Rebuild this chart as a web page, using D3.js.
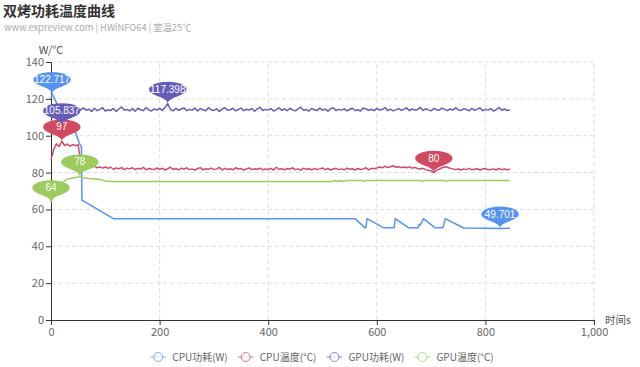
<!DOCTYPE html>
<html>
<head>
<meta charset="utf-8">
<script src="https://cdn.jsdelivr.net/npm/d3@7"></script>
<style>
    body { margin: 0; background: #fff; }
    svg { display: block; font-family: "Noto Sans CJK SC", "Noto Sans", sans-serif; }
</style>
</head>
<body>
<svg id="chart" width="640" height="367"></svg>
<script>
const titleText = "双烤功耗温度曲线";
const subtitleText = "www.expreview.com | HWiNFO64 | 室温25℃";
const seriesNames = ["CPU功耗(W)", "CPU温度(°C)", "GPU功耗(W)", "GPU温度(°C)"];
const seriesColors = ["#5793f3", "#d14a61", "#675bba", "#9ccb5e"];
const xTicks = [0, 200, 400, 600, 800, 1000];
const yTicks = [0, 20, 40, 60, 80, 100, 120, 140];

// CPU power, [seconds, W]
const cpuPower = [
    [0, 120.5], [2, 122.717], [10, 118], [20, 112], [30, 108], [40, 104], [45, 102],
    [52, 96], [56, 94], [57, 65], [115, 55], [560, 55], [578, 50.1], [580, 50.1],
    [582, 55], [612, 50.1], [632, 50.1], [634, 55], [658, 50.1], [676, 50.1],
    [678, 52], [680, 51.5], [686, 55], [707, 50.1], [722, 50.1], [726, 55],
    [760, 49.9], [800, 49.8], [827, 49.701], [845, 49.75]
];

// GPU temperature, [seconds, °C]
const gpuTemp = [
    [0, 64], [5, 68], [10, 71], [15, 73], [20, 74], [25, 75.5], [30, 76.5], [40, 77],
    [50, 77.5], [53, 78], [58, 77.2], [70, 76.8], [90, 76.3], [100, 75.4], [110, 75.1],
    [518, 75.1], [523, 75.8], [526, 75.2], [536, 75.7], [539, 75.1], [542, 75.7],
    [575, 75.7], [578, 75.1], [581, 75.7], [680, 75.7], [683, 75.1], [686, 75.7],
    [724, 75.7], [727, 75.1], [730, 75.7], [845, 75.7]
];

// logged every 5 s from t = 0 to 845
const sampleStep = 5;

const cpuTemp = [
    87.0, 92.5, 95.6, 94.1, 97.0, 94.7, 95.4, 94.3, 95.2, 94.6,
    95.1, 85.2, 83.6, 84.1, 83.3, 82.8, 83.5, 82.6, 83.1, 82.4,
    83.0, 82.3, 82.9, 81.8, 82.5, 82.1, 82.7, 81.6, 82.4, 82.0,
    82.6, 81.7, 82.3, 81.9, 82.8, 81.5, 82.2, 82.0, 81.6, 82.5,
    81.8, 82.3, 81.4, 82.1, 82.9, 81.7, 82.2, 81.5, 82.4, 81.9,
    82.6, 81.6, 82.0, 81.3, 82.2, 82.7, 81.5, 82.1, 81.8, 82.4,
    81.6, 82.0, 82.8, 81.4, 82.3, 81.7, 82.1, 81.5, 82.6, 81.9,
    82.2, 81.3, 82.0, 82.5, 81.6, 82.1, 81.8, 82.4, 81.5, 82.0,
    81.7, 82.3, 81.4, 82.9, 81.8, 82.1, 81.5, 82.2, 81.9, 82.6,
    81.6, 82.0, 81.3, 82.4, 81.8, 82.1, 81.5, 82.3, 81.7, 82.0,
    82.5, 81.6, 82.2, 81.4, 81.9, 82.3, 81.6, 82.0, 81.5, 82.4,
    81.8, 82.1, 81.4, 82.2, 81.7, 82.0, 82.6, 81.5, 82.3, 82.1,
    82.5, 83.0, 82.6, 83.4, 82.8, 83.1, 83.7, 82.9, 83.2, 82.7,
    83.0, 82.6, 83.1, 82.4, 82.8, 82.2, 81.9, 82.3, 81.6, 81.2,
    81.0, 80.0, 81.2, 81.8, 82.6, 83.1, 82.9, 82.3, 82.0, 81.6,
    81.9, 81.4, 82.0, 81.6, 82.3, 81.5, 81.8, 82.1, 81.4, 81.9,
    82.2, 81.5, 81.7, 82.0, 81.4, 82.3, 81.6, 81.9, 81.5, 81.8
];

const gpuPower = [
    108.2, 106.9, 106.1, 105.9, 105.837, 108.5, 112.4, 114.1, 113.2, 114.6,
    113.5, 114.2, 115.1, 113.8, 114.4, 113.1, 114.9, 113.6, 114.3, 115.2,
    113.4, 114.1, 113.7, 114.8, 113.2, 114.5, 115.6, 113.9, 114.2, 113.5,
    114.7, 113.3, 114.9, 114.1, 113.6, 115.3, 114.0, 113.4, 114.6, 113.9,
    114.8, 113.7, 115.4, 117.398, 114.2, 113.5, 114.9, 113.8, 114.5, 115.1,
    113.6, 114.3, 113.9, 115.0, 113.4, 114.7, 114.1, 113.5, 115.2, 114.0,
    113.7, 114.6, 113.2, 114.4, 115.3, 113.8, 114.1, 114.9, 113.5, 114.2,
    115.0, 113.6, 114.4, 113.9, 114.8, 113.3, 114.6, 115.4, 113.7, 114.3,
    113.9, 114.7, 113.4, 114.2, 115.1, 113.8, 114.5, 113.6, 114.9, 114.0,
    113.5, 114.6, 115.5, 113.8, 114.2, 113.4, 114.8, 114.1, 113.7, 115.0,
    113.9, 114.4, 113.3, 114.7, 115.2, 113.6, 114.3, 113.9, 114.6, 113.5,
    114.2, 114.9, 113.7, 114.1, 113.4, 115.0, 114.5, 113.8, 114.3, 113.6,
    114.8, 113.9, 114.2, 115.3, 113.7, 114.4, 113.5, 114.0, 114.7, 113.8,
    114.3, 115.1, 113.6, 114.5, 113.9, 114.2, 115.4, 113.7, 114.6, 114.0,
    113.5, 114.8, 114.1, 113.8, 115.0, 114.3, 113.6, 114.5, 113.9, 115.2,
    114.0, 113.7, 114.6, 114.2, 113.5, 114.9, 113.8, 114.4, 115.1, 113.6,
    114.3, 113.9, 114.7, 113.4, 114.2, 115.3, 113.8, 114.5, 113.7, 114.0
];

const toPairs = arr => arr.map((v, i) => [i * sampleStep, v]);
const allSeries = [cpuPower, toPairs(cpuTemp), toPairs(gpuPower), gpuTemp];

const width = 640;
const height = 367;
const margin = { top: 62, right: 46, bottom: 47, left: 51 };

const svg = d3.select("#chart");

const x = d3.scaleLinear().domain([0, 1000]).range([margin.left, width - margin.right]);
const y = d3.scaleLinear().domain([0, 140]).range([height - margin.bottom, margin.top]);

// title
svg.append("text")
    .attr("x", 3).attr("y", 16)
    .text(titleText)
    .style("font-size", "14px")
    .style("font-weight", "bold")
    .style("fill", "#333");
svg.append("text")
    .attr("x", 4).attr("y", 31)
    .text(subtitleText)
    .style("font-size", "9.3px")
    .style("fill", "#aaa");

// grid
svg.append("g")
    .selectAll("line")
    .data(yTicks.filter(d => d > 0))
    .enter().append("line")
    .attr("x1", x(0)).attr("x2", x(1000))
    .attr("y1", d => y(d)).attr("y2", d => y(d))
    .style("stroke", "#ddd")
    .style("stroke-dasharray", "4,3");
svg.append("g")
    .selectAll("line")
    .data(xTicks.filter(d => d > 0))
    .enter().append("line")
    .attr("x1", d => x(d)).attr("x2", d => x(d))
    .attr("y1", y(0)).attr("y2", y(140))
    .style("stroke", "#ddd")
    .style("stroke-dasharray", "4,3");

// axes
const xAxis = svg.append("g")
    .attr("transform", `translate(0,${y(0)})`)
    .call(d3.axisBottom(x).tickValues(xTicks).tickSize(5).tickFormat(d3.format(",")));
const yAxis = svg.append("g")
    .attr("transform", `translate(${x(0)},0)`)
    .call(d3.axisLeft(y).tickValues(yTicks).tickSize(5));
[xAxis, yAxis].forEach(g => {
    g.select(".domain").style("stroke", "#333");
    g.selectAll(".tick line").style("stroke", "#333");
    g.selectAll(".tick text")
        .style("fill", "#666")
        .style("font-size", "11px")
        .style("font-family", "\"Noto Sans CJK SC\", sans-serif");
});
xAxis.selectAll(".tick text").attr("dy", "0.95em").attr("y", 6);
yAxis.selectAll(".tick text").attr("x", -7);

svg.append("text")
    .attr("x", x(0)).attr("y", 54)
    .attr("text-anchor", "middle")
    .text("W/°C")
    .style("font-size", "11px")
    .style("fill", "#555");
svg.append("text")
    .attr("x", x(1000) + 11).attr("y", y(0) + 4)
    .text("时间s")
    .style("font-size", "10.5px")
    .style("fill", "#555");

// lines
const line = d3.line().x(d => x(d[0])).y(d => y(d[1]));
svg.append("g")
    .selectAll("path")
    .data(allSeries)
    .enter().append("path")
    .attr("d", line)
    .style("fill", "none")
    .style("stroke", (d, i) => seriesColors[i])
    .style("stroke-width", 1.5)
    .style("stroke-linejoin", "round");

// max / min pins, shaped like the echarts "pin" symbol
function pinPath() {
    const w = 30, h = 50, r = w / 2;
    const dy = r * r / (h - r);
    const cy = -h + r + dy;
    const angle = Math.asin(dy / r);
    const dx = Math.cos(angle) * r;
    const tanX = Math.sin(angle), tanY = Math.cos(angle);
    const cpLen = r * 0.6, cpLen2 = r * 0.7;
    const p = d3.path();
    p.moveTo(-dx, cy + dy);
    p.arc(0, cy, r, Math.PI - angle, Math.PI * 2 + angle);
    p.bezierCurveTo(dx - tanX * cpLen, cy + dy + tanY * cpLen, 0, -cpLen2, 0, 0);
    p.bezierCurveTo(0, -cpLen2, -dx + tanX * cpLen, cy + dy + tanY * cpLen, -dx, cy + dy);
    p.closePath();
    return { d: p.toString(), cy: cy };
}
const pin = pinPath();
const pinSx = 1.25, pinSy = 0.5;

const marks = [];
allSeries.forEach((s, i) => {
    const hi = s[d3.maxIndex(s, d => d[1])];
    const lo = s[d3.minIndex(s, d => d[1])];
    marks.push({ p: hi, color: seriesColors[i] });
    marks.push({ p: lo, color: seriesColors[i] });
});

const pins = svg.append("g")
    .selectAll("g")
    .data(marks)
    .enter().append("g")
    .attr("transform", d => `translate(${x(d.p[0])},${y(d.p[1])})`);
pins.append("path")
    .attr("d", pin.d)
    .attr("transform", `scale(${pinSx},${pinSy})`)
    .style("fill", d => d.color);
pins.append("text")
    .attr("y", pin.cy * pinSy)
    .attr("dy", "0.35em")
    .attr("text-anchor", "middle")
    .text(d => String(d.p[1]))
    .style("fill", "#fff")
    .style("font-family", "\"Liberation Sans\", sans-serif")
    .style("font-size", "10px");

// legend
const legend = svg.append("g");
let lx = 0;
seriesNames.forEach((name, i) => {
    const item = legend.append("g").attr("transform", `translate(${lx},0)`);
    item.append("line")
        .attr("x1", 0).attr("x2", 16)
        .attr("y1", 0).attr("y2", 0)
        .style("stroke", seriesColors[i])
        .style("stroke-width", 1)
        .style("opacity", 0.7);
    item.append("circle")
        .attr("cx", 8).attr("cy", 0).attr("r", 4.5)
        .style("fill", "#fff")
        .style("stroke", seriesColors[i])
        .style("opacity", 0.75);
    const t = item.append("text")
        .attr("x", 22).attr("dy", "0.35em")
        .text(name)
        .style("font-size", "10px")
        .style("fill", "#666");
    lx += 22 + t.node().getComputedTextLength() + 10;
});
legend.attr("transform", `translate(${(width - (lx - 10)) / 2 + 2},${height - 10})`);
</script>
</body>
</html>
